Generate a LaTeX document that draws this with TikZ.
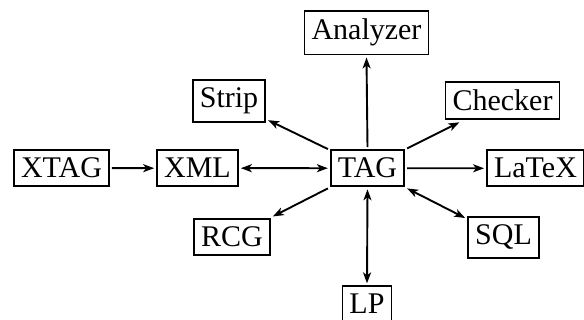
\documentclass[tikz,border=0pt]{standalone}
\usepackage{fontspec}
\setmainfont{Liberation Serif}
\usetikzlibrary{arrows.meta}
\begin{document}
\begin{tikzpicture}[x=1pt,y=-1pt,
  box/.style={draw,line width=1.9pt,inner xsep=7pt,inner ysep=8pt,outer sep=3pt,
    anchor=base,font=\fontsize{30}{36}\selectfont},
  tip/.style={Stealth[length=11pt,width=8pt,inset=3pt]},
  link/.style={line width=1.9pt,-{Stealth[length=11pt,width=8pt,inset=3pt]}},
  both/.style={line width=1.9pt,{Stealth[length=11pt,width=8pt,inset=3pt]}-{Stealth[length=11pt,width=8pt,inset=3pt]}}]
  \useasboundingbox (0,0) rectangle (584,320);
  % tool nodes, placed on their baselines
  \node[box] (TAG) at (367.5,178) {TAG};
  \node[box] (XML) at (197.5,178) {XML};
  \node[box] (XTAG) at (61.5,178) {XTAG};
  \node[box] (LaTeX) at (535.5,178) {LaTeX};
  \node[box] (Analyzer) at (366.5,40) {Analyzer};
  \node[box] (Strip) at (229,108) {Strip};
  \node[box] (Checker) at (502.5,111) {Checker};
  \node[box] (RCG) at (232,247) {RCG};
  \node[box] (SQL) at (503.5,245) {SQL};
  \node[box] (LP) at (367,314) {LP};
  % conversions
  \draw[link] (XTAG) -- (XML);
  \draw[both] (XML) -- (TAG);
  \draw[link] (TAG) -- (Strip);
  \draw[link] (TAG.north) -- (Analyzer.south);
  \draw[link] (TAG) -- (Checker);
  \draw[link] (TAG) -- (LaTeX);
  \draw[link] (TAG) -- (RCG);
  \draw[both] (TAG) -- (SQL);
  \draw[both] (TAG.south) -- (LP.north);
\end{tikzpicture}
\end{document}
